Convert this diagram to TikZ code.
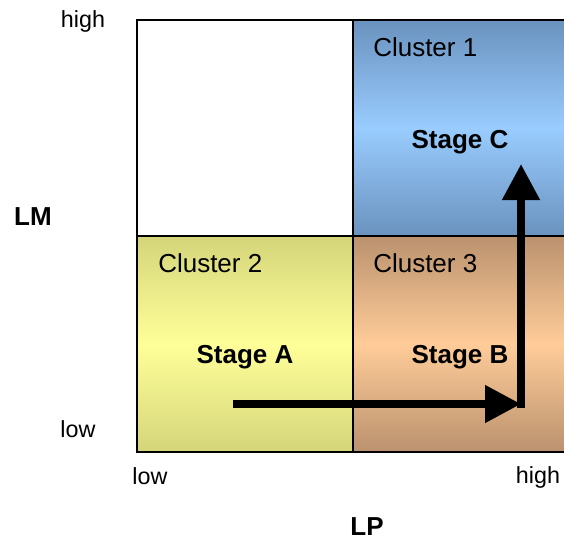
\documentclass[tikz,border=0pt]{standalone}
\usepackage{fontspec}
\setmainfont{Liberation Sans}
\usetikzlibrary{arrows.meta}
\definecolor{blueedge}{RGB}{106,146,190}
\definecolor{bluemid}{RGB}{153,204,255}
\definecolor{yeledge}{RGB}{212,213,122}
\definecolor{yelmid}{RGB}{255,255,153}
\definecolor{brnedge}{RGB}{186,146,110}
\definecolor{brnmid}{RGB}{255,204,153}
\tikzset{
  cell/.style={draw=black, line width=1.5pt, minimum width=162pt, minimum height=162pt, inner sep=0pt, outer sep=0pt},
  blueshade/.style={top color=blueedge, bottom color=blueedge, middle color=bluemid},
  yelshade/.style={top color=yeledge, bottom color=yeledge, middle color=yelmid},
  brnshade/.style={top color=brnedge, bottom color=brnedge, middle color=brnmid},
  clabel/.style={anchor=west, inner sep=0pt, font=\fontsize{19.5}{23}\selectfont},
  stagelbl/.style={inner sep=0pt, font=\fontsize{19.5}{23}\selectfont\bfseries},
  axlabel/.style={inner sep=0pt, font=\fontsize{17.5}{21}\selectfont},
  axtitle/.style={inner sep=0pt, font=\fontsize{19.5}{23}\selectfont\bfseries},
  bigarrow/.style={line width=5.8pt, -{Triangle[length=27pt, width=27pt]}}
}
\begin{document}
\begin{tikzpicture}[x=0.75pt, y=-0.75pt]
\useasboundingbox (0,0) rectangle (564,543);
\clip (0,0) rectangle (564,543);
\node[cell, fill=white] (w) at (245,128) {};
\node[cell, blueshade] (c1) at (461,128) {};
\node[cell, yelshade] (c2) at (245,344) {};
\node[cell, brnshade] (c3) at (461,344) {};
\draw[line width=1.5pt] (137,20) rectangle (569,452);
\draw[line width=1.5pt] (353,20) -- (353,452);
\draw[line width=1.5pt] (137,236) -- (569,236);

\node[clabel] (l1) at (373,47) {Cluster 1};
\node[clabel] (l2) at (158,263) {Cluster 2};
\node[clabel] (l3) at (373,263) {Cluster 3};
\node[stagelbl] (sc) at (460,142.5) {Stage C};
\node[stagelbl] (sa) at (245,357.5) {Stage A};
\node[stagelbl] (sb) at (460,357.5) {Stage B};

\node[axlabel] (yh) at (83,21) {high};
\node[axlabel] (yl) at (78,429) {low};
\node[axlabel] (xl) at (150,476) {low};
\node[axlabel] (xh) at (538,477) {high};
\node[axtitle] (lm) at (33,217) {LM};
\node[axtitle] (lp) at (367,527) {LP};

\coordinate (a0) at (233,404);
\coordinate (a1) at (521,404);
\coordinate (a2) at (521,408);
\coordinate (a3) at (521,164);
\draw[bigarrow] (a0) -- (a1);
\draw[bigarrow] (a2) -- (a3);
\end{tikzpicture}
\end{document}
